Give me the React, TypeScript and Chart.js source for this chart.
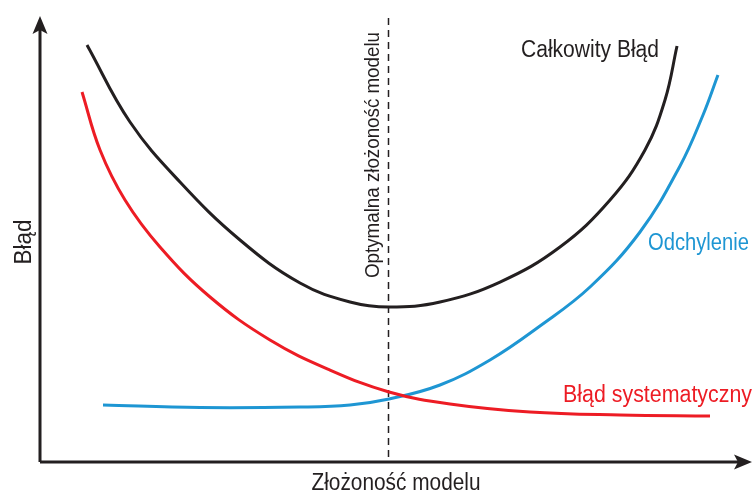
import React, { useEffect, useRef } from "react";
import { Chart, registerables } from "chart.js";

Chart.register(...registerables);

const totalX = [6.6, 12.64, 19.66, 28.09, 36.52, 43.54, 49.02, 56.18, 64.61, 73.03, 80.06, 84.97, 87.78, 89.47];
const totalY = [94.34, 76.92, 63.35, 50.23, 40.5, 36.2, 35.07, 36.2, 40.72, 48.64, 59.28, 70.59, 81.9, 94.12];

const biasX = [5.9, 8.43, 11.94, 16.85, 23.88, 32.3, 40.73, 49.02, 57.58, 68.82, 81.46, 94.1];
const biasY = [83.71, 70.59, 59.28, 48.64, 37.33, 27.6, 20.81, 15.84, 13.12, 11.31, 10.63, 10.41];

const varX = [8.85, 22.47, 36.52, 43.54, 49.02, 56.18, 63.2, 70.22, 77.25, 84.27, 89.89, 93.12, 95.22];
const varY = [12.9, 12.33, 12.44, 12.9, 14.25, 17.42, 23.08, 30.77, 39.59, 52.04, 66.97, 78.51, 87.56];

const optimalX = 48.9;

const labels = {
  total: "Całkowity Błąd",
  variance: "Odchylenie",
  bias: "Błąd systematyczny",
  xTitle: "Złożoność modelu",
  yTitle: "Błąd",
  optimal: "Optymalna złożoność modelu",
};

const BLACK = "#231f20";
const RED = "#ed1c24";
const BLUE = "#1e96d3";
const FONT = '"Liberation Sans", Arial, sans-serif';

const zip = (xs: number[], ys: number[]) => xs.map((x, i) => ({ x, y: ys[i] }));

const decorPlugin = {
  id: "decor",
  beforeDatasetsDraw(chart: any) {
    const { ctx, chartArea, scales } = chart;
    const left = chartArea.left;
    const bottom = chartArea.bottom;
    const top = chartArea.top;
    const right = chartArea.right;
    ctx.save();
    // axes
    ctx.strokeStyle = BLACK;
    ctx.fillStyle = BLACK;
    ctx.lineWidth = 3;
    ctx.beginPath();
    ctx.moveTo(left, bottom);
    ctx.lineTo(left, top + 10);
    ctx.moveTo(left, bottom);
    ctx.lineTo(right - 10, bottom);
    ctx.stroke();
    // y arrow
    ctx.beginPath();
    ctx.moveTo(left, top - 4);
    ctx.lineTo(left + 7.5, top + 14);
    ctx.lineTo(left, top + 10);
    ctx.lineTo(left - 7.5, top + 14);
    ctx.closePath();
    ctx.fill();
    // x arrow
    ctx.beginPath();
    ctx.moveTo(right, bottom);
    ctx.lineTo(right - 18, bottom - 7.5);
    ctx.lineTo(right - 14, bottom);
    ctx.lineTo(right - 18, bottom + 7.5);
    ctx.closePath();
    ctx.fill();
    // dashed optimal line
    const ox = Math.round(scales.x.getPixelForValue(optimalX)) + 0.5;
    ctx.lineWidth = 1.5;
    ctx.setLineDash([7, 5]);
    ctx.beginPath();
    ctx.moveTo(ox, top - 2);
    ctx.lineTo(ox, bottom);
    ctx.stroke();
    ctx.setLineDash([]);

    // texts
    ctx.font = `23px ${FONT}`;
    ctx.textBaseline = "alphabetic";
    ctx.fillStyle = BLACK;
    ctx.textAlign = "center";
    ctx.fillText(labels.total, 590, 57, 138);
    ctx.fillText(labels.xTitle, 396, 490, 169);
    ctx.fillStyle = BLUE;
    ctx.textAlign = "right";
    ctx.fillText(labels.variance, 749, 250, 101);
    ctx.fillStyle = RED;
    ctx.fillText(labels.bias, 752, 402, 189);

    ctx.fillStyle = BLACK;
    ctx.textAlign = "center";
    ctx.save();
    ctx.translate(31, 242);
    ctx.rotate(-Math.PI / 2);
    ctx.fillText(labels.yTitle, 0, 0, 45);
    ctx.restore();
    ctx.save();
    ctx.font = `21px ${FONT}`;
    ctx.translate(379, 155);
    ctx.rotate(-Math.PI / 2);
    ctx.fillText(labels.optimal, 0, 0, 246);
    ctx.restore();
    ctx.restore();
  },
};

export default function App() {
  const ref = useRef<HTMLCanvasElement>(null);
  useEffect(() => {
    if (!ref.current) return;
    const lineDs = (data: any, color: string) => ({
      data,
      borderColor: color,
      borderWidth: 3,
      pointRadius: 0,
      fill: false,
      tension: 0.4,
    });
    const chart = new Chart(ref.current, {
      type: "line",
      data: {
        datasets: [
          lineDs(zip(totalX, totalY), BLACK),
          lineDs(zip(biasX, biasY), RED),
          lineDs(zip(varX, varY), BLUE),
        ],
      },
      options: {
        animation: false,
        responsive: false,
        devicePixelRatio: 1,
        layout: { padding: { left: 40, right: 2, top: 20, bottom: 32 } },
        plugins: { legend: { display: false }, tooltip: { enabled: false } },
        scales: {
          x: { type: "linear", min: 0, max: 100, display: false },
          y: { type: "linear", min: 0, max: 100, display: false },
        },
      },
      plugins: [decorPlugin],
    });
    return () => chart.destroy();
  }, []);
  return (
    <div style={{ position: "absolute", left: 0, top: 0, width: 754, height: 494, background: "#fff" }}>
      <canvas ref={ref} width={754} height={494} style={{ width: 754, height: 494 }} />
    </div>
  );
}
